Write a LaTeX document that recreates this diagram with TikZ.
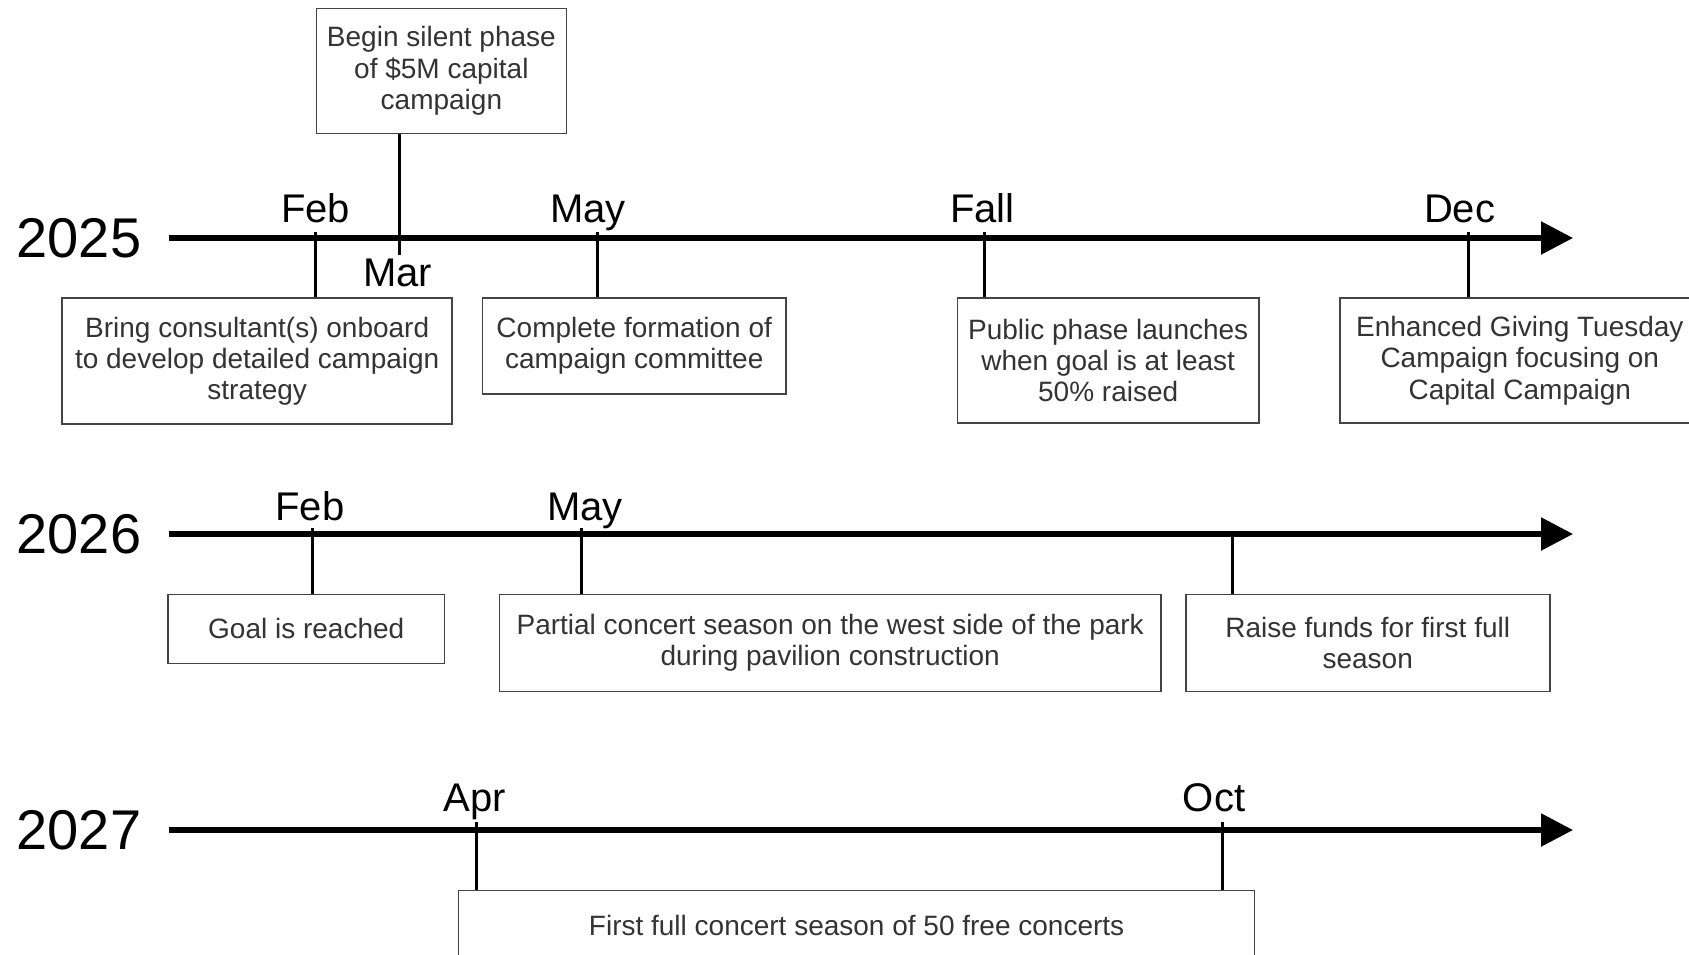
\documentclass[tikz,border=0pt]{standalone}
\usepackage{fontspec}
\setmainfont{Liberation Sans}
\usetikzlibrary{arrows.meta}
\definecolor{boxtext}{HTML}{333333}
\definecolor{boxline}{HTML}{444444}
\begin{document}
\begin{tikzpicture}[x=0.5pt,y=-0.5pt,
  axisline/.style={line width=2.7pt,-{Triangle[length=16pt,width=16pt]}},
  tickline/.style={line width=1.6pt},
  box/.style={draw=boxline,line width=0.8pt,text=boxtext,align=center,inner sep=0pt,
    font=\fontsize{14}{15.6}\selectfont,anchor=north west},
  year/.style={font=\fontsize{28}{30}\selectfont},
  month/.style={font=\fontsize{20}{22}\selectfont,anchor=base}]
\useasboundingbox (0,0) rectangle (1689,954);
\clip (0,0) rectangle (1689,954);

% ---- 2025
\node[year] (y25) at (79,238) {2025};
\coordinate (a25s) at (169,238);
\coordinate (a25e) at (1573,238);
\draw[axisline] (a25s) -- (a25e);

\node[box,minimum width=125pt,minimum height=62.5pt] (bBegin) at (315.6,7.5)
  {Begin silent phase\\of \$5M capital\\campaign};
\node[box,minimum width=195pt,minimum height=63pt] (bBring) at (61.4,297.3)
  {Bring consultant(s) onboard\\to develop detailed campaign\\strategy};
\node[box,minimum width=151.9pt,minimum height=48pt] (bMay) at (481.5,297.3)
  {Complete formation of\\campaign committee};
\node[box,minimum width=150.8pt,minimum height=62.5pt] (bFall) at (956.6,297.3)
  {Public phase launches\\when goal is at least\\50\% raised};
\node[box,minimum width=180pt,minimum height=62.5pt] (bDec) at (1339,297.3)
  {Enhanced Giving Tuesday\\Campaign focusing on\\Capital Campaign};

\coordinate (tFeb25) at (315.6,232);
\coordinate (tMar25) at (399.6,255);
\coordinate (tMay25) at (597.8,232);
\coordinate (tFall25) at (984.6,232);
\coordinate (tDec25) at (1468.2,232);
\draw[tickline] (tFeb25) -- (tFeb25 |- bBring.north);
\draw[tickline] (tMar25 |- bBegin.south) -- (tMar25);
\draw[tickline] (tMay25) -- (tMay25 |- bMay.north);
\draw[tickline] (tFall25) -- (tFall25 |- bFall.north);
\draw[tickline] (tDec25) -- (tDec25 |- bDec.north);

\node[month] (mFeb25) at (315.6,222) {Feb};
\node[month] (mMar25) at (397.5,286.5) {Mar};
\node[month] (mMay25) at (588,222) {May};
\node[month] (mFall25) at (982.4,222) {Fall};
\node[month] (mDec25) at (1459.6,222) {Dec};

% ---- 2026
\node[year] (y26) at (79,534) {2026};
\coordinate (a26s) at (169,534);
\coordinate (a26e) at (1573,534);
\draw[axisline] (a26s) -- (a26e);

\node[box,minimum width=138.4pt,minimum height=34.5pt] (bGoal) at (167,593.5)
  {Goal is reached};
\node[box,minimum width=330.7pt,minimum height=48.5pt] (bPartial) at (498.7,593.5)
  {Partial concert season on the west side of the park\\during pavilion construction};
\node[box,minimum width=182pt,minimum height=48.5pt] (bRaise) at (1184.9,593.5)
  {Raise funds for first full\\season};

\coordinate (tFeb26) at (312.4,528);
\coordinate (tMay26) at (581.7,528);
\coordinate (tRaise26) at (1232.3,534);
\draw[tickline] (tFeb26) -- (tFeb26 |- bGoal.north);
\draw[tickline] (tMay26) -- (tMay26 |- bPartial.north);
\draw[tickline] (tRaise26) -- (tRaise26 |- bRaise.north);

\node[month] (mFeb26) at (310,520) {Feb};
\node[month] (mMay26) at (585,520) {May};

% ---- 2027
\node[year] (y27) at (79,830) {2027};
\coordinate (a27s) at (169,830);
\coordinate (a27e) at (1573,830);
\draw[axisline] (a27s) -- (a27e);

\node[box,minimum width=398pt,minimum height=34.5pt] (bFirst) at (457.8,889.8)
  {First full concert season of 50 free concerts};

\coordinate (tApr27) at (476.1,822);
\coordinate (tOct27) at (1222.6,822);
\draw[tickline] (tApr27) -- (tApr27 |- bFirst.north);
\draw[tickline] (tOct27) -- (tOct27 |- bFirst.north);

\node[month] (mApr27) at (475,811) {Apr};
\node[month] (mOct27) at (1214,811) {Oct};
\end{tikzpicture}
\end{document}
